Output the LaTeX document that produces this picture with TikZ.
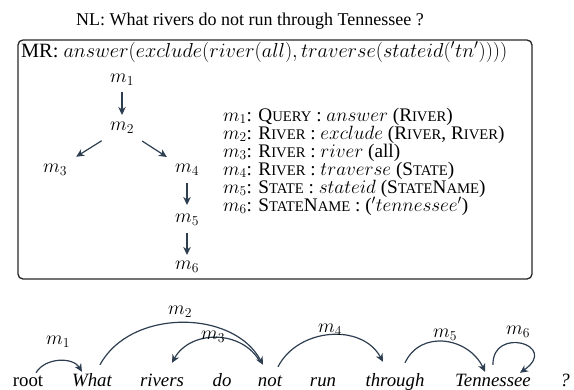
\RequirePackage{fix-cm}
\documentclass[tikz,border=0pt]{standalone}
\usepackage{fontspec}
\setmainfont{Liberation Serif}
\usetikzlibrary{arrows.meta,calc}
\definecolor{linkcol}{RGB}{44,62,80}
% faked small capitals
\newcommand\scp[1]{{\fontsize{14.7bp}{14.7bp}\selectfont #1}}

\begin{document}
\begin{tikzpicture}[x=1bp,y=-1bp,
  every node/.style={inner sep=0pt, font=\fontsize{19.5bp}{18bp}\selectfont},
  link/.style={draw=linkcol, line width=1.2bp,
    -{Stealth[length=8bp,width=7.5bp,inset=2.5bp]}},
  treenode/.style={anchor=center},
  word/.style={anchor=base, text height=13bp, text depth=4bp,
    font=\fontsize{18.8bp}{18bp}\selectfont\itshape},
  listline/.style={anchor=base west, text height=12bp, text depth=4bp,
    font=\fontsize{19.2bp}{18bp}\selectfont},
  arclabel/.style={anchor=center}
]
\useasboundingbox (0,0) rectangle (574,389);

% title
\node[anchor=base, font=\fontsize{18bp}{18bp}\selectfont] (title) at (250,25)
  {NL: What rivers do not run through Tennessee ?};

% frame holding the meaning representation
\node[draw=black!85, line width=1.3bp, rounded corners=5bp,
      minimum width=514bp, minimum height=239bp] (frame) at (275,159.5) {};
\node[anchor=base west, font=\fontsize{20.3bp}{18bp}\selectfont] (mr) at (21,57)
  {MR: $answer(exclude(river(all),traverse(stateid('tn'))))$};

% tree of meaning representation units
\node[treenode] (t1) at (122,80)  {$m_1$};
\node[treenode] (t2) at (122,128) {$m_2$};
\node[treenode] (t3) at (55,170)  {$m_3$};
\node[treenode] (t4) at (187,170) {$m_4$};
\node[treenode] (t5) at (187,220) {$m_5$};
\node[treenode] (t6) at (187,267) {$m_6$};

\draw[link, shorten <=12bp, shorten >=13bp] (t1.center) -- (t2.center);
\draw[link, shorten <=24bp, shorten >=25bp] (t2.center) -- (t3.center);
\draw[link, shorten <=24bp, shorten >=24bp] (t2.center) -- (t4.center);
\draw[link, shorten <=13bp, shorten >=15bp] (t4.center) -- (t5.center);
\draw[link, shorten <=13bp, shorten >=12bp] (t5.center) -- (t6.center);

% unit definitions
\node[listline] (l1) at (223,121) {$m_1$: Q\scp{UERY} : $answer$ (R\scp{IVER})};
\node[listline] (l2) at (223,139) {$m_2$: R\scp{IVER} : $exclude$ (R\scp{IVER}, R\scp{IVER})};
\node[listline] (l3) at (223,157) {$m_3$: R\scp{IVER} : $river$ (all)};
\node[listline] (l4) at (223,175) {$m_4$: R\scp{IVER} : $traverse$ (S\scp{TATE})};
\node[listline] (l5) at (223,193) {$m_5$: S\scp{TATE} : $stateid$ (S\scp{TATE}N\scp{AME})};
\node[listline] (l6) at (223,211) {$m_6$: S\scp{TATE}N\scp{AME} : ($'tennessee'$)};

% sentence
\node[word, font=\fontsize{18.8bp}{18bp}\selectfont] (root) at (28,386) {root};
\node[word] (what)  at (92,386)  {What};
\node[word] (rivers) at (162,386) {rivers};
\node[word] (do)    at (222,386) {do};
\node[word] (not)   at (270,386) {not};
\node[word] (run)   at (323,386) {run};
\node[word] (through) at (395,386) {through};
\node[word] (tenn)  at (493,386) {Tennessee};
\node[word] (qm)    at (565,386) {?};

% alignment arcs
\draw[link] ($(root.north)+(8,0)$) .. controls +(9,-15.5) and +(-9,-15) .. ($(what.north)+(-10,-1)$);
\draw[link] ($(what.north)+(8,-8)$) .. controls +(30,-56) and +(-30,-56) .. ($(not.north)+(-7,-8)$);
\draw[link] ($(not.north)+(-10,-11)$) .. controls +(-18,-32.5) and +(18,-33) .. ($(rivers.north)+(10,-10)$);
\draw[link] ($(not.north)+(8,-6)$) .. controls +(20,-39) and +(-21,-39) .. ($(through.north)+(-12,-11)$);
\draw[link] ($(through.north)+(10,-10)$) .. controls +(16,-34) and +(-16,-34) .. ($(tenn.north)+(-8,-1)$);
\draw[link] ($(tenn.north)+(0,-8)$) .. controls +(-1,-39) and +(40,-28) .. ($(tenn.north)+(27,0)$);

\node[arclabel] (a1) at (58,342)  {$m_1$};
\node[arclabel] (a2) at (180,312) {$m_2$};
\node[arclabel] (a3) at (213,337) {$m_3$};
\node[arclabel] (a4) at (330,330) {$m_4$};
\node[arclabel] (a5) at (445,335) {$m_5$};
\node[arclabel] (a6) at (518,332) {$m_6$};
\end{tikzpicture}
\end{document}
